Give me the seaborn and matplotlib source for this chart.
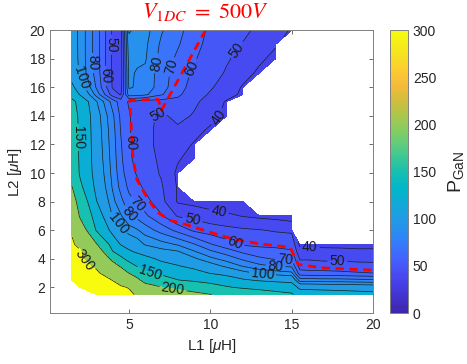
import numpy as np
import matplotlib
matplotlib.use("Agg")
import matplotlib.pyplot as plt
import seaborn as sns
import pandas as pd
from matplotlib.colors import LinearSegmentedColormap, Normalize
from matplotlib.cm import ScalarMappable

nan = np.nan

# ---------------- data ----------------
L1_uH = [1.5, 2, 3, 4, 4.5, 5, 5.5, 6, 7, 8, 9, 10, 11, 12, 13, 14, 15, 15.5, 16, 17, 18, 19, 20]
L2_uH = [1.5, 2, 2.5, 3, 3.5, 4, 4.5, 5, 6, 7, 8, 9, 10, 11, 12, 13, 14, 15, 15.5, 16, 17, 18, 19, 20]

# P_GaN values, one list per L2 row (nan = no solution / white)
P_L2_01_5 = [nan, nan, 345, 330, 318, 312, 293, 270, 245, 225, 213, 201, 190, 180, 170, 160, 154, 136, 135, 133, 131, 129, 127]
P_L2_02_0 = [nan, 335, 335, 315, 307, 297, 255, 222, 202, 189, 176, 164, 153, 145, 140, 137, 133, 114, 113, 112, 111, 110, 109]
P_L2_02_5 = [335, 328, 322, 299, 276, 253, 212, 183, 168, 151, 145, 139, 132, 123, 118, 115, 113, 85, 85, 84, 84, 83, 82]
P_L2_03_0 = [328, 320, 310, 262, 233, 199, 178, 155, 143, 135, 128, 119, 113, 104, 98, 95, 92, 64, 63, 63, 62, 61, 60]
P_L2_03_5 = [322, 314, 291, 223, 193, 164, 148, 138, 127, 121, 114, 106, 97, 89, 82.5, 79, 78, 55, 55, 54, 54, 53, 53]
P_L2_04_0 = [316, 309, 263, 186, 157, 140, 132, 126, 116, 110, 102, 92.5, 86, 78, 72, 69, 68, 49, 49, 48, 48, 47.5, 47]
P_L2_04_5 = [310, 304, 234, 151, 137, 123, 117, 112, 104, 101, 91, 82, 75, 68, 64, 63, 61, 43, 43, 43, 42.5, 42, 42]
P_L2_05_0 = [305, 290, 204, 135, 119, 112, 107, 99, 94, 89, 81, 71, 64, 59, 58, 57.5, 57, 38, 38, 37.5, 37.5, 37, 37]
P_L2_06_0 = [296, 234, 147, 113, 102, 95, 91, 85, 76, 67, 58, 55, 53, 51.5, 50.5, 49, 48, nan, nan, nan, nan, nan, nan]
P_L2_07_0 = [265, 193, 134, 99, 91, 81, 77, 72, 61, 49, 47, 44, 42, 39.5, 38, 37, 35, nan, nan, nan, nan, nan, nan]
P_L2_08_0 = [229, 175, 121, 93, 83, 73, 69, 64, 53, 39, 37, 35, 33, 33, nan, nan, nan, nan, nan, nan, nan, nan, nan]
P_L2_09_0 = [202, 157, 114, 89, 77, 68, 63, 58, 51, 39, nan, nan, nan, nan, nan, nan, nan, nan, nan, nan, nan, nan, nan]
P_L2_10_0 = [180, 146, 111, 87, 74, 64, 59, 55, 49, 38, nan, nan, nan, nan, nan, nan, nan, nan, nan, nan, nan, nan, nan]
P_L2_11_0 = [170, 146, 109, 86, 72, 62, 57, 54, 48, 41, 36, nan, nan, nan, nan, nan, nan, nan, nan, nan, nan, nan, nan]
P_L2_12_0 = [166, 146, 108, 85, 71, 61, 56, 53, 47, 45, 39, nan, nan, nan, nan, nan, nan, nan, nan, nan, nan, nan, nan]
P_L2_13_0 = [164, 146, 107, 84, 69.5, 61, 56, 53, 47, 48, 44, 38, nan, nan, nan, nan, nan, nan, nan, nan, nan, nan, nan]
P_L2_14_0 = [162, 145, 106, 82, 68, 61, 56, 53, 48, 53, 49, 44, 37, nan, nan, nan, nan, nan, nan, nan, nan, nan, nan]
P_L2_15_0 = [158, 140, 101, 76, 65, 59, 57, 55, 56, 57, 52, 46, 39, nan, nan, nan, nan, nan, nan, nan, nan, nan, nan]
P_L2_15_5 = [138, 118, 86, 55, 49, 85, 84, 82, 71, 62, 54, 49, 44, 38, nan, nan, nan, nan, nan, nan, nan, nan, nan]
P_L2_16_0 = [125, 108, 79, 49, 45, 91, 89, 87, 74, 64, 56, 51, 46, 39, nan, nan, nan, nan, nan, nan, nan, nan, nan]
P_L2_17_0 = [110, 98, 76, 48, 44, 92, 89, 88, 74, 66, 58, 54, 49, 44, 38, nan, nan, nan, nan, nan, nan, nan, nan]
P_L2_18_0 = [108, 97, 75, 48, 44, 94, 92, 91, 76, 68, 61, 55, 51, 47, 42, 37, nan, nan, nan, nan, nan, nan, nan]
P_L2_19_0 = [107, 97, 75, 48, 44, 97, 95, 92, 78, 71, 63, 57, 53, 49.5, 46, 41, nan, nan, nan, nan, nan, nan, nan]
P_L2_20_0 = [107, 97, 75, 48, 44, 101, 98, 94, 81, 73, 65, 58, 55, 52, 48, 44, 39, nan, nan, nan, nan, nan, nan]

# contour levels drawn as lines
line_levels = [40, 50, 60, 70, 80, 90, 100, 120, 150, 200, 300]

# red dashed boundary (V1DC = 500 V)
red_L1 = [9.7, 8.5, 7.0, 6.8, 5.05, 5.1, 5.25, 5.5, 6.0, 6.7, 7.5, 8.5, 10.0, 11.5, 13.0, 14.9, 15.4, 17.0, 20.0]
red_L2 = [20.0, 17.5, 14.4, 15.15, 15.1, 14.0, 11.0, 9.5, 8.5, 7.3, 6.7, 6.4, 5.85, 5.35, 5.05, 4.8, 3.6, 3.35, 3.2]

x_ticks = [5, 10, 15, 20]
y_ticks = [2, 4, 6, 8, 10, 12, 14, 16, 18, 20]
cbar_ticks = [0, 50, 100, 150, 200, 250, 300]

# ---------------- style ----------------
sns.set_theme(style="ticks")
plt.rcParams['font.family'] = ['Liberation Sans', 'DejaVu Sans']
plt.rcParams['mathtext.fontset'] = 'custom'
plt.rcParams['mathtext.rm'] = 'Liberation Sans'
plt.rcParams['mathtext.it'] = 'Liberation Sans:italic'

parula_pts = [
    (0.00, (0.2422, 0.1504, 0.6603)),
    (0.05, (0.2580, 0.1900, 0.7900)),
    (0.10, (0.2750, 0.2450, 0.9000)),
    (0.15, (0.2800, 0.3150, 0.9650)),
    (0.20, (0.2600, 0.4000, 0.9950)),
    (0.25, (0.2000, 0.4900, 0.9800)),
    (0.30, (0.1500, 0.5700, 0.9300)),
    (0.35, (0.1100, 0.6300, 0.8800)),
    (0.40, (0.0400, 0.6800, 0.8300)),
    (0.45, (0.0100, 0.7200, 0.7700)),
    (0.50, (0.0900, 0.7500, 0.6900)),
    (0.55, (0.2300, 0.7800, 0.5900)),
    (0.60, (0.3900, 0.8000, 0.4800)),
    (0.65, (0.5300, 0.8000, 0.3800)),
    (0.70, (0.6700, 0.7800, 0.3000)),
    (0.75, (0.8200, 0.7400, 0.2400)),
    (0.80, (0.9500, 0.7300, 0.2400)),
    (0.85, (0.9950, 0.7800, 0.2000)),
    (0.90, (0.9700, 0.8600, 0.1500)),
    (0.95, (0.9600, 0.9300, 0.1000)),
    (1.00, (0.9763, 0.9831, 0.0538)),
]
parula = LinearSegmentedColormap.from_list("parula", parula_pts)

fig = plt.figure(figsize=(4.67, 3.64), dpi=100)
ax = fig.add_axes([0.107, 0.140, 0.692, 0.777])
cax = fig.add_axes([0.835, 0.140, 0.0385, 0.777])

P_rows = [P_L2_01_5, P_L2_02_0, P_L2_02_5, P_L2_03_0, P_L2_03_5, P_L2_04_0, P_L2_04_5,
          P_L2_05_0, P_L2_06_0, P_L2_07_0, P_L2_08_0, P_L2_09_0, P_L2_10_0, P_L2_11_0,
          P_L2_12_0, P_L2_13_0, P_L2_14_0, P_L2_15_0, P_L2_15_5, P_L2_16_0, P_L2_17_0,
          P_L2_18_0, P_L2_19_0, P_L2_20_0]
X, Y = np.meshgrid(L1_uH, L2_uH)
Z = np.ma.masked_invalid(np.array(P_rows, dtype=float))

band_edges = [0] + line_levels + [1000]
band_lows = [33] + line_levels
band_colors = [parula(v / 300.0) for v in band_lows]

ax.contourf(X, Y, Z, levels=band_edges, colors=band_colors)
cs = ax.contour(X, Y, Z, levels=line_levels, colors='k', linewidths=0.5)

label_spots = [(2.2, 3.8), (7.7, 1.9), (6.3, 3.1), (1.7, 12.5), (4.25, 6.4), (13.2, 2.9),
               (5.0, 7.1), (14.0, 3.35), (5.5, 7.8), (14.6, 3.8), (5.05, 12.1), (11.5, 5.1),
               (8.9, 6.7), (17.8, 3.7), (10.5, 7.2), (16.1, 4.6), (6.6, 17.7), (7.7, 17.4),
               (9.2, 17.2), (11.4, 18.8), (10.5, 13.9), (6.6, 14.5),
               (1.95, 16.6), (2.8, 17.7), (3.5, 16.8), (3.95, 19.0)]
ax.clabel(cs, fontsize=10, inline=True, fmt='%d', manual=label_spots, inline_spacing=3)

red_df = pd.DataFrame({"L1": red_L1, "L2": red_L2})
sns.lineplot(data=red_df, x="L1", y="L2", sort=False, estimator=None, ax=ax,
             color='red', linewidth=2.0, linestyle=(0, (3.0, 2.0)))

ax.set_xlim(0.15, 20)
ax.set_ylim(0.2, 20)
ax.set_xticks(x_ticks)
ax.set_yticks(y_ticks)
ax.set_xlabel(r"L1 [$\mu$H]", fontsize=11, color='#262626', labelpad=4)
ax.set_ylabel(r"L2 [$\mu$H]", fontsize=11, color='#262626', labelpad=4)
ax.tick_params(direction='in', top=True, right=True, length=3, width=0.6,
               colors='#555555', labelcolor='#262626', labelsize=10)
for sp in ax.spines.values():
    sp.set_visible(True)
    sp.set_color('#808080')
    sp.set_linewidth(0.7)

cb = fig.colorbar(ScalarMappable(norm=Normalize(0, 300), cmap=parula), cax=cax, ticks=cbar_ticks)
cb.outline.set_edgecolor('#808080')
cb.outline.set_linewidth(0.7)
cax.tick_params(direction='in', length=3, width=0.6, colors='#555555', labelcolor='#262626', labelsize=10)
cb.set_label(r"P$_{\rm GaN}$", fontsize=14, color='#262626', labelpad=7)

fig.text(0.44, 0.966, r"$V_{1DC}\ =\ 500V$", color='red', fontsize=16, ha='center', va='center',
         math_fontfamily='stix')

fig.savefig("out.png", dpi=100)
